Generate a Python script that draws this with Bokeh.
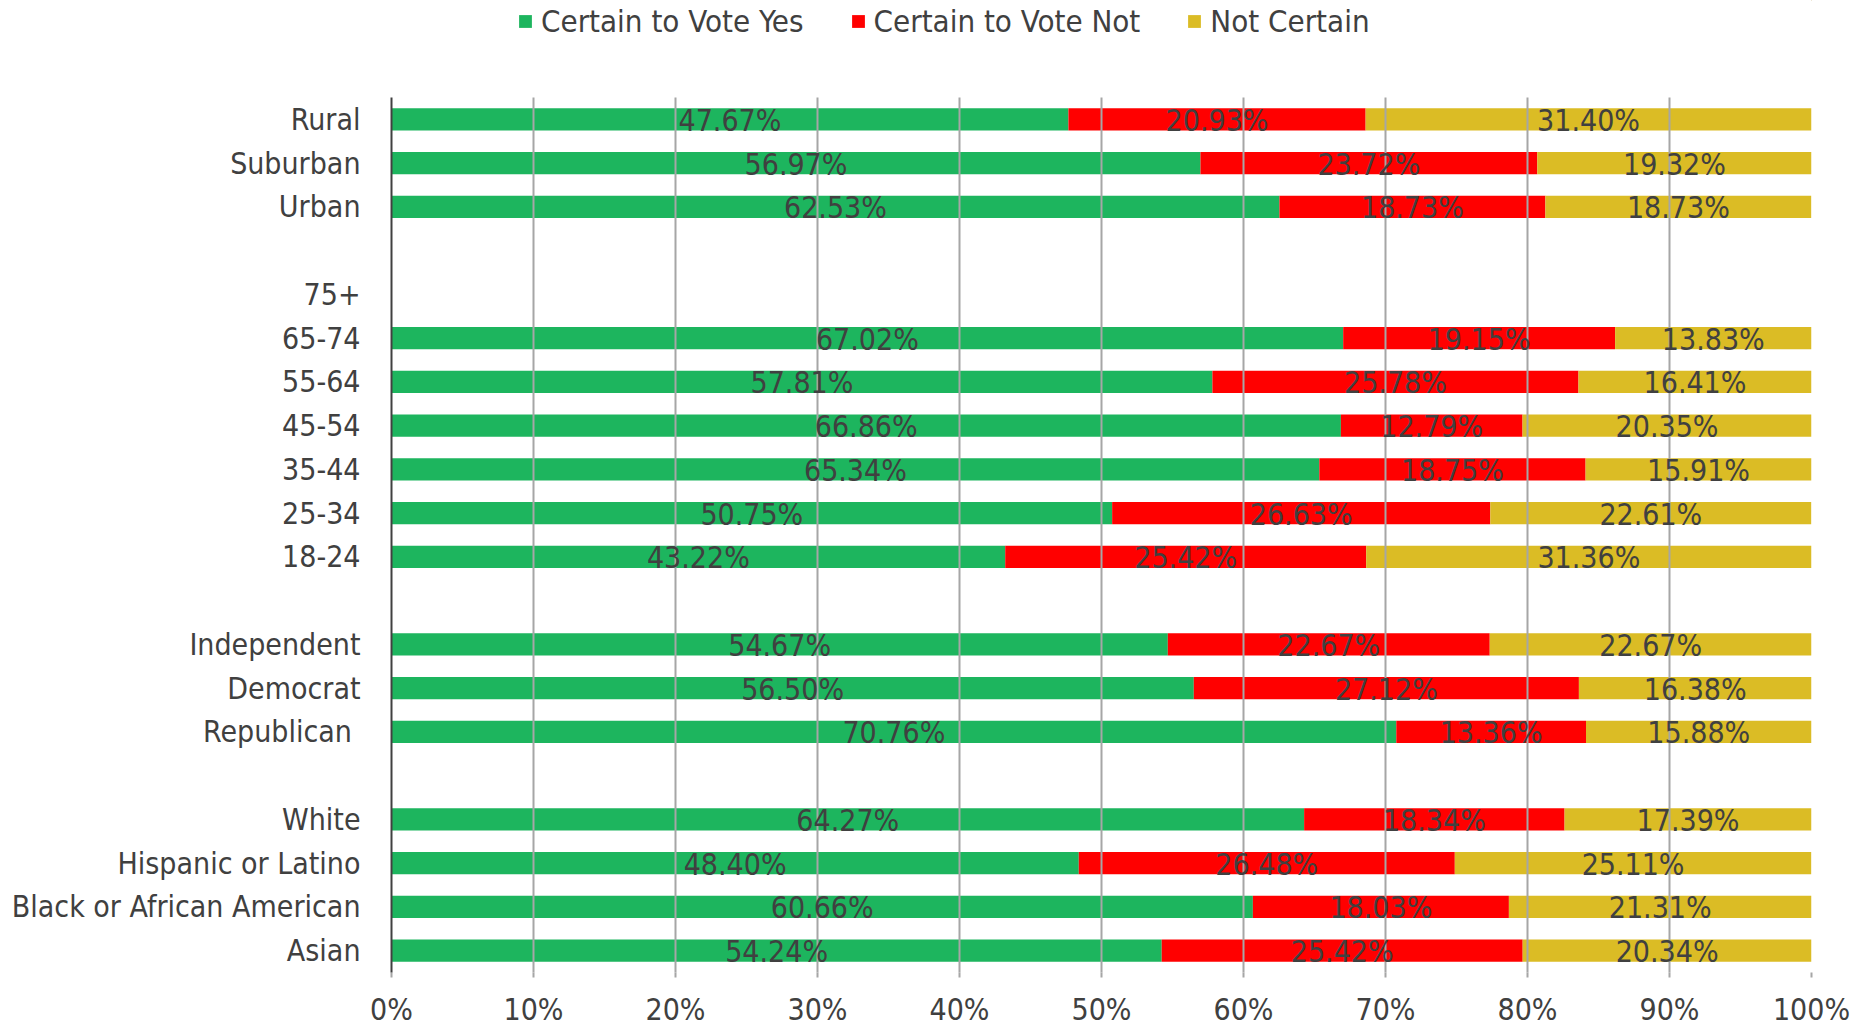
import numpy as np
from bokeh.plotting import figure
from bokeh.layouts import column
from bokeh.models import (ColumnDataSource, FactorRange, Range1d, FixedTicker,
                          PrintfTickFormatter, Legend, LegendItem)
from bokeh.core.properties import value
from bokeh.embed import file_html
from bokeh.resources import INLINE

# ---- data (top to bottom) ----
categories = ["Rural", "Suburban", "Urban",
              "75+", "65-74", "55-64", "45-54", "35-44", "25-34", "18-24",
              "Independent", "Democrat", "Republican ",
              "White", "Hispanic or Latino", "Black or African American", "Asian"]
groups = [3, 7, 3, 4]  # number of categories in each block

yes_vals = [47.67, 56.97, 62.53,
            0.0, 67.02, 57.81, 66.86, 65.34, 50.75, 43.22,
            54.67, 56.50, 70.76,
            64.27, 48.40, 60.66, 54.24]
not_vals = [20.93, 23.72, 18.73,
            0.0, 19.15, 25.78, 12.79, 18.75, 26.63, 25.42,
            22.67, 27.12, 13.36,
            18.34, 26.48, 18.03, 25.42]
unc_vals = [31.40, 19.32, 18.73,
            0.0, 13.83, 16.41, 20.35, 15.91, 22.61, 31.36,
            22.67, 16.38, 15.88,
            17.39, 25.11, 21.31, 20.34]

series_names = ["Certain to Vote Yes", "Certain to Vote Not", "Not Certain"]
x_ticks = [0, 10, 20, 30, 40, 50, 60, 70, 80, 90, 100]

colors = ["#1DB55E", "#FF0000", "#DBBC25"]
FONT = "DejaVu Sans Condensed"
TXT = "#404040"
FS = "30px"

# factor list with blank spacer rows between groups (bottom to top for the range)
factors_top_down = []
i = 0
for gi, n in enumerate(groups):
    factors_top_down.extend(categories[i:i + n])
    i += n
    if gi < len(groups) - 1:
        factors_top_down.append(" " * (gi + 1))
factors = list(reversed(factors_top_down))

# ---------- legend strip ----------
lg = figure(width=1874, height=97, x_range=Range1d(0, 1), y_range=Range1d(0, 1),
            x_axis_type=None, y_axis_type=None, output_backend="svg",
            toolbar_location=None, min_border=0)
lg.outline_line_color = None
lg.xgrid.visible = False
lg.ygrid.visible = False
lg_rs = []
for k in range(3):
    # a single bar kept outside the visible ranges: only its legend swatch shows
    lg_rs.append(lg.hbar(y=[5], left=[2], right=[3], height=0.5,
                         fill_color=colors[k], line_color=None))
legend = Legend(items=[LegendItem(label=n, renderers=[r]) for n, r in zip(series_names, lg_rs)],
                orientation="horizontal", location=(126, 58),
                label_text_font=FONT, label_text_font_size="31px", label_text_color=TXT,
                glyph_width=16, glyph_height=16, label_standoff=8, spacing=46,
                padding=0, margin=0, border_line_color=None, background_fill_alpha=0)
lg.add_layout(legend, "center")

# ---------- main chart ----------
p = figure(width=1874, height=932, y_range=FactorRange(*factors, range_padding=0),
           x_range=Range1d(0, 100), output_backend="svg", toolbar_location=None,
           min_border_left=391, min_border_right=63, min_border_top=0,
           min_border_bottom=57)
p.outline_line_color = None

vals = np.array([yes_vals, not_vals, unc_vals])
lefts = np.vstack([np.zeros(len(categories)), np.cumsum(vals, axis=0)[:-1]])
rights = np.cumsum(vals, axis=0)

for k in range(3):
    src = ColumnDataSource(dict(y=categories, left=lefts[k], right=rights[k]))
    p.hbar(y="y", left="left", right="right", height=0.51, source=src,
           fill_color=colors[k], line_color=None)
for k in range(3):
    mask = vals[k] > 0
    lsrc = ColumnDataSource(dict(
        y=[c for c, m in zip(categories, mask) if m],
        x=((lefts[k] + rights[k]) / 2)[mask],
        t=[f"{v:.2f}%" for v in vals[k][mask]]))
    p.text(x="x", y="y", text="t", source=lsrc, text_align="center",
           text_baseline="middle", text_font=value(FONT), text_font_size=FS,
           text_color=TXT, y_offset=1, level="overlay")

# axes
p.xaxis.ticker = FixedTicker(ticks=x_ticks)
p.xaxis.formatter = PrintfTickFormatter(format="%d%%")
p.xaxis.axis_line_color = None
p.xaxis.major_tick_out = 5
p.xaxis.major_tick_in = 0
p.xaxis.major_tick_line_color = "#A6A6A6"
p.xaxis.major_tick_line_width = 2
p.xaxis.minor_tick_line_color = None
p.xaxis.major_label_text_font = FONT
p.xaxis.major_label_text_font_size = FS
p.xaxis.major_label_text_color = TXT
p.xaxis.major_label_standoff = 14

p.yaxis.axis_line_color = "#404040"
p.yaxis.axis_line_width = 2
p.yaxis.major_tick_line_color = None
p.yaxis.minor_tick_line_color = None
p.yaxis.major_label_text_font = FONT
p.yaxis.major_label_text_font_size = FS
p.yaxis.major_label_text_color = TXT
p.yaxis.major_label_standoff = 25

p.xgrid.grid_line_color = "#A6A6A6"
p.xgrid.grid_line_width = 2
p.xgrid.level = "annotation"
p.ygrid.grid_line_color = None

layout = column(lg, p, spacing=0)
open("out.html", "w").write(file_html(layout, INLINE))
